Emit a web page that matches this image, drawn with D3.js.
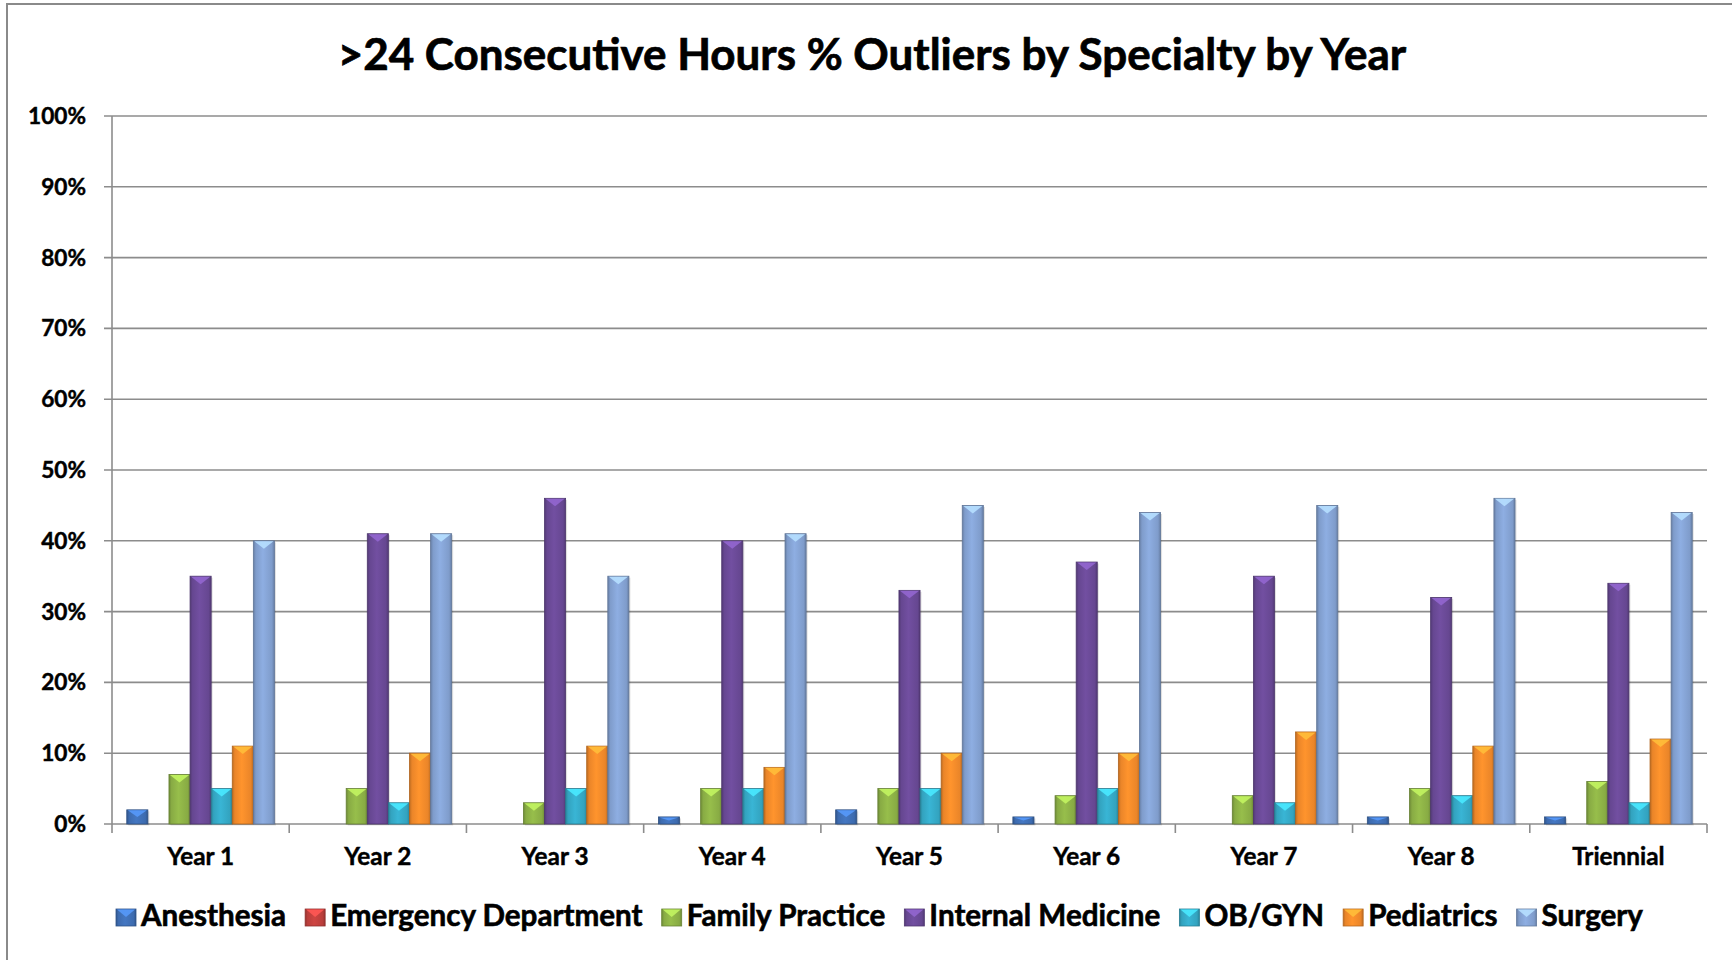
<!DOCTYPE html>
<html>
<head>
<meta charset="utf-8">
<script src="https://cdn.jsdelivr.net/npm/d3@7"></script>
<style>
  html, body { margin: 0; padding: 0; background: #fff; }
  svg { display: block; font-family: Lato, "Open Sans", sans-serif; font-weight: bold; }
  text { stroke: #000; stroke-width: 0.45px; }
</style>
</head>
<body>
<svg id="chart" width="1732" height="960"></svg>
<script>
// data (percent)
const categories = ["Year 1", "Year 2", "Year 3", "Year 4", "Year 5", "Year 6", "Year 7", "Year 8", "Triennial"];
const specialties = ["Anesthesia", "Emergency Department", "Family Practice", "Internal Medicine", "OB/GYN", "Pediatrics", "Surgery"];
const anesthesia = [2, 0, 0, 1, 2, 1, 0, 1, 1];
const emergency  = [0, 0, 0, 0, 0, 0, 0, 0, 0];
const familyPractice = [7, 5, 3, 5, 5, 4, 4, 5, 6];
const internalMed = [35, 41, 46, 40, 33, 37, 35, 32, 34];
const obgyn = [5, 3, 5, 5, 5, 5, 3, 4, 3];
const pediatrics = [11, 10, 11, 8, 10, 10, 13, 11, 12];
const surgery = [40, 41, 35, 41, 45, 44, 45, 46, 44];
const yTicks = [0, 10, 20, 30, 40, 50, 60, 70, 80, 90, 100];
const colors = ["#3f6fb5", "#c0403d", "#8db146", "#6a4a96", "#35a9c6", "#f28a2a", "#84a2d2"];

const series = [anesthesia, emergency, familyPractice, internalMed, obgyn, pediatrics, surgery];

const svg = d3.select("#chart");
const margin = {left: 112, right: 1707, top: 116, bottom: 824};

// outer frame of the chart area (runs off right & bottom)
svg.append("rect")
  .attr("x", 7).attr("y", 4).attr("width", 1760).attr("height", 990)
  .attr("fill", "none").attr("stroke", "#8a8a8a").attr("stroke-width", 2);

// gradients per series
const defs = svg.append("defs");
colors.forEach((c, i) => {
  const g = defs.append("linearGradient").attr("id", "grad" + i)
    .attr("x1", "0%").attr("x2", "100%").attr("y1", "0%").attr("y2", "0%");
  const base = d3.color(c);
  g.append("stop").attr("offset", "0%").attr("stop-color", base.darker(0.7));
  g.append("stop").attr("offset", "12%").attr("stop-color", base.darker(0.1));
  g.append("stop").attr("offset", "45%").attr("stop-color", base.brighter(0.2));
  g.append("stop").attr("offset", "88%").attr("stop-color", base.darker(0.1));
  g.append("stop").attr("offset", "100%").attr("stop-color", base.darker(0.7));
});

const x0 = d3.scaleBand().domain(categories).range([margin.left, margin.right]).padding(0);
const x1 = d3.scaleBand().domain(d3.range(specialties.length)).range([0, x0.bandwidth()])
  .paddingInner(0).paddingOuter(0.7);
const y = d3.scaleLinear().domain([0, 100]).range([margin.bottom, margin.top]);

// gridlines + y tick marks
svg.append("g").selectAll("line").data(yTicks).join("line")
  .attr("x1", margin.left - 8).attr("x2", margin.right)
  .attr("y1", d => y(d)).attr("y2", d => y(d))
  .attr("stroke", "#8c8c8c").attr("stroke-width", 1.6);

// y axis line
svg.append("line")
  .attr("x1", margin.left).attr("x2", margin.left)
  .attr("y1", y(100)).attr("y2", y(0))
  .attr("stroke", "#8c8c8c").attr("stroke-width", 1.6);

// y labels
const yLab = svg.append("g").selectAll("text").data(yTicks).join("text")
  .attr("x", 86).attr("y", d => y(d) + 8)
  .attr("text-anchor", "end").attr("font-size", 21).attr("fill", "#000")
  .text(d => d + "%");

// x axis ticks at category boundaries
const bounds = categories.map(c => x0(c)).concat([margin.right]);
svg.append("g").selectAll("line").data(bounds).join("line")
  .attr("x1", d => d).attr("x2", d => d)
  .attr("y1", y(0)).attr("y2", y(0) + 9)
  .attr("stroke", "#8c8c8c").attr("stroke-width", 1.6);

// bars
const groups = svg.append("g").selectAll("g").data(categories).join("g")
  .attr("transform", c => `translate(${x0(c)},0)`);

groups.each(function(c, ci) {
  const g = d3.select(this);
  const vals = series.map((s, si) => ({si: si, v: s[ci]})).filter(d => d.v > 0);
  const bw = x1.bandwidth();
  const bar = g.selectAll("g.bar").data(vals).join("g").attr("class", "bar");
  bar.append("rect")
    .attr("x", d => x1(d.si) + 1.5).attr("y", d => y(d.v) + 1.5)
    .attr("width", bw).attr("height", d => y(0) - y(d.v))
    .attr("fill", "#000").attr("opacity", 0.12);
  bar.append("rect")
    .attr("x", d => x1(d.si)).attr("y", d => y(d.v))
    .attr("width", bw).attr("height", d => y(0) - y(d.v))
    .attr("fill", d => `url(#grad${d.si})`)
    .attr("stroke", d => d3.color(colors[d.si]).darker(0.9)).attr("stroke-width", 0.8);
  bar.append("path")
    .attr("d", d => {
      const x = x1(d.si), top = y(d.v), h = Math.min(8, (y(0) - y(d.v)) / 2);
      return `M${x + 1},${top + 0.5} L${x + bw - 1},${top + 0.5} L${x + bw / 2},${top + h} Z`;
    })
    .attr("fill", d => d3.color(colors[d.si]).brighter(0.9))
    .attr("opacity", 0.9);
});

// x labels
const xLab = svg.append("g").selectAll("text").data(categories).join("text")
  .attr("x", c => x0(c) + x0.bandwidth() / 2).attr("y", 865)
  .attr("text-anchor", "middle").attr("font-size", 22).attr("fill", "#000")
  .text(c => c);

// scale a font so that a sample string hits the measured width
function fitSize(sel, base, targetW) {
  const w = sel.node().getComputedTextLength();
  return base * targetW / w;
}
const xs = fitSize(xLab.filter((d, i) => i === 0), 22, 67);
xLab.attr("font-size", xs);
const ys = fitSize(yLab.filter(d => d === 100), 21, 58);
yLab.attr("font-size", ys);

// title
const title = svg.append("text")
  .attr("x", 872).attr("y", 70).attr("text-anchor", "middle")
  .attr("font-size", 38).attr("fill", "#000").style("stroke-width", "0.7px")
  .text(">24 Consecutive Hours % Outliers by Specialty by Year");
title.attr("font-size", fitSize(title, 38, 1069));

// legend
const legend = svg.append("g");
const items = legend.selectAll("g").data(specialties).join("g");
items.append("text").attr("y", 926).attr("font-size", 27).attr("fill", "#000")
  .style("stroke-width", "0.6px").text(d => d);
const tw0 = [];
items.select("text").each(function() { tw0.push(this.getComputedTextLength()); });
const sw = 20, sg = 5, ig = 19;
const targetTotal = 1643 - 116;
const rawText = d3.sum(tw0);
const fixed = specialties.length * (sw + sg) + (specialties.length - 1) * ig;
const k = (targetTotal - fixed) / rawText;
items.select("text").attr("font-size", 27 * k);
let cx = 116;
items.each(function(d, i) {
  const it = d3.select(this);
  it.append("rect").attr("x", cx).attr("y", 909).attr("width", sw).attr("height", 17)
    .attr("fill", `url(#grad${i})`).attr("stroke", d3.color(colors[i]).darker(0.8)).attr("stroke-width", 0.8);
  it.append("path")
    .attr("d", `M${cx + 1},${909.5} L${cx + sw - 1},${909.5} L${cx + sw / 2},${917} Z`)
    .attr("fill", d3.color(colors[i]).brighter(0.9)).attr("opacity", 0.9);
  it.select("text").attr("x", cx + sw + sg);
  cx += sw + sg + tw0[i] * k + ig;
});
</script>
</body>
</html>
